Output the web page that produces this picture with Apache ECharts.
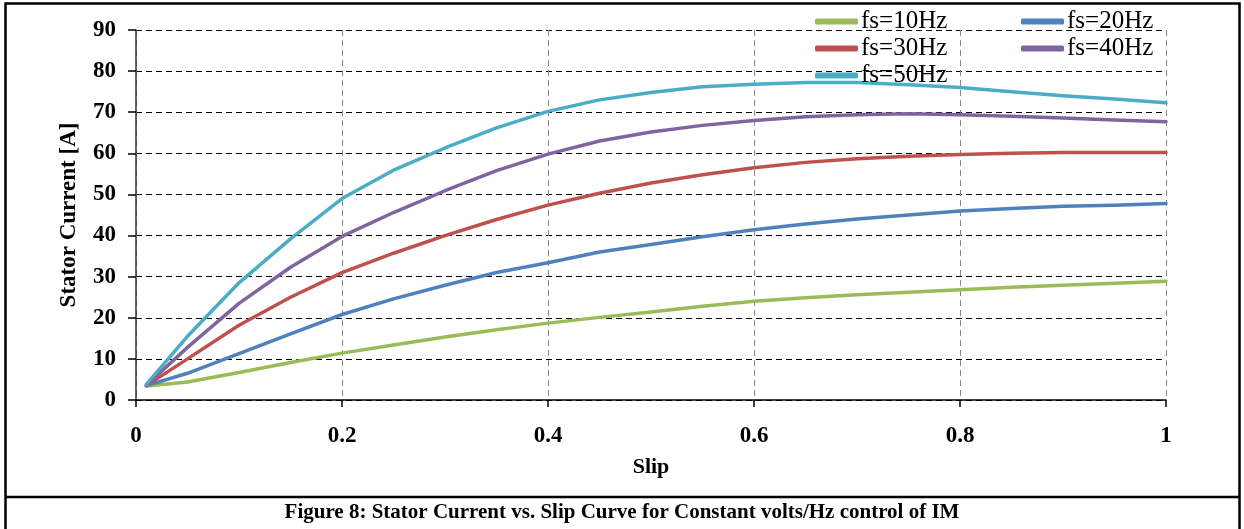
<!DOCTYPE html>
<html>
<head>
<meta charset="utf-8">
<script src="https://cdn.jsdelivr.net/npm/echarts@6/dist/echarts.min.js"></script>
<style>html,body{margin:0;padding:0;background:#fff;}#c{width:1244px;height:529px;}</style>
</head>
<body>
<div id="c"></div>
<script>
const slip = [0.01,0.05,0.10,0.15,0.20,0.25,0.30,0.35,0.40,0.45,0.50,0.55,0.60,0.65,0.70,0.75,0.80,0.85,0.90,0.95,1.00];
const fs10 = [3.4,4.4,6.7,9.1,11.4,13.4,15.3,17.1,18.7,20.1,21.4,22.8,24.0,24.9,25.6,26.2,26.8,27.4,27.9,28.4,28.9];
const fs20 = [3.5,6.5,11.3,16.1,20.8,24.6,27.9,31.0,33.4,36.0,37.8,39.7,41.4,42.8,44.0,45.0,46.0,46.6,47.1,47.4,47.8];
const fs30 = [3.5,10.0,18.2,25.0,31.0,35.7,40.0,43.9,47.4,50.3,52.8,54.8,56.5,57.8,58.7,59.3,59.7,60.0,60.2,60.2,60.2];
const fs40 = [3.6,12.8,23.5,32.3,39.8,45.6,50.9,55.8,59.8,63.0,65.2,66.8,68.0,68.9,69.4,69.6,69.4,69.0,68.6,68.1,67.7];
const fs50 = [3.8,15.5,28.5,39.2,49.0,55.9,61.3,66.2,70.2,73.0,74.8,76.2,76.8,77.2,77.2,76.7,76.0,75.0,74.0,73.2,72.3];
const seriesNames = ['fs=10Hz','fs=20Hz','fs=30Hz','fs=40Hz','fs=50Hz'];
const seriesColors = ['#9BBB59','#4F81BD','#C0504D','#8064A2','#4BACC6'];
const xTicks = {min:0, max:1, interval:0.2};
const yTicks = {min:0, max:90, interval:10};
const xTitle = 'Slip';
const yTitle = 'Stator Current [A]';
const caption = 'Figure 8: Stator Current vs. Slip Curve for Constant volts/Hz control of IM';

const allVals = [fs10, fs20, fs30, fs40, fs50];
const serif = '"Liberation Serif","Times New Roman",serif';

const chart = echarts.init(document.getElementById('c'), null, {renderer:'canvas'});
const legendCommon = {
  orient:'vertical', itemWidth:43, itemHeight:6, itemGap:2, icon:'roundRect', padding:0,
  textStyle:{fontFamily:serif, fontSize:25, color:'#000', lineHeight:24, padding:[0,0,0,-2]},
  selectedMode:false
};
chart.setOption({
  animation:false,
  backgroundColor:'#fff',
  grid:{left:136, right:78, top:30, bottom:129, containLabel:false},
  legend:[
    Object.assign({}, legendCommon, {left:815, top:9, data:[seriesNames[0],seriesNames[2],seriesNames[4]]}),
    Object.assign({}, legendCommon, {left:1021, top:9, data:[seriesNames[1],seriesNames[3]]})
  ],
  xAxis:{
    type:'value', min:xTicks.min, max:xTicks.max, interval:xTicks.interval,
    name:xTitle, nameLocation:'middle', nameGap:56,
    nameTextStyle:{fontFamily:serif, fontSize:22, fontWeight:'bold', color:'#000'},
    axisLine:{show:true, onZero:false, lineStyle:{color:'#000', width:1.5}},
    axisTick:{show:true, inside:false, length:7, lineStyle:{color:'#000', width:1.5}},
    axisLabel:{fontFamily:serif, fontSize:23, fontWeight:'bold', color:'#000', margin:25},
    splitLine:{show:true, lineStyle:{color:'#888', width:1, type:[6,4]}}
  },
  yAxis:{
    type:'value', min:yTicks.min, max:yTicks.max, interval:yTicks.interval,
    name:yTitle, nameLocation:'middle', nameGap:55, nameRotate:90,
    nameTextStyle:{fontFamily:serif, fontSize:23, fontWeight:'bold', color:'#000'},
    axisLine:{show:true, lineStyle:{color:'#333', width:1.5}},
    axisTick:{show:true, inside:false, length:8, lineStyle:{color:'#000', width:1.5}},
    axisLabel:{fontFamily:serif, fontSize:23, fontWeight:'bold', color:'#000', margin:20},
    splitLine:{show:true, lineStyle:{color:'#000', width:1, type:[6,4]}}
  },
  series: seriesNames.map((n,i)=>({
    name:n, type:'line', showSymbol:false, symbol:'none', smooth:false,
    data: slip.map((x,j)=>[x, allVals[i][j]]),
    lineStyle:{color:seriesColors[i], width:3.5, join:'round', cap:'round'},
    itemStyle:{color:seriesColors[i]},
    z: 2
  })),
  graphic:[
    {type:'rect', shape:{x:5.5, y:3.5, width:1234, height:540}, style:{fill:'none', stroke:'#000', lineWidth:2.5}, silent:true},
    {type:'line', shape:{x1:5, y1:497, x2:1240, y2:497}, style:{stroke:'#000', lineWidth:2.5}, silent:true},
    {type:'text', left:'center', top:502, style:{text:caption, font:'bold 21px '+serif, fill:'#000'}, silent:true}
  ]
});
</script>
</body>
</html>
